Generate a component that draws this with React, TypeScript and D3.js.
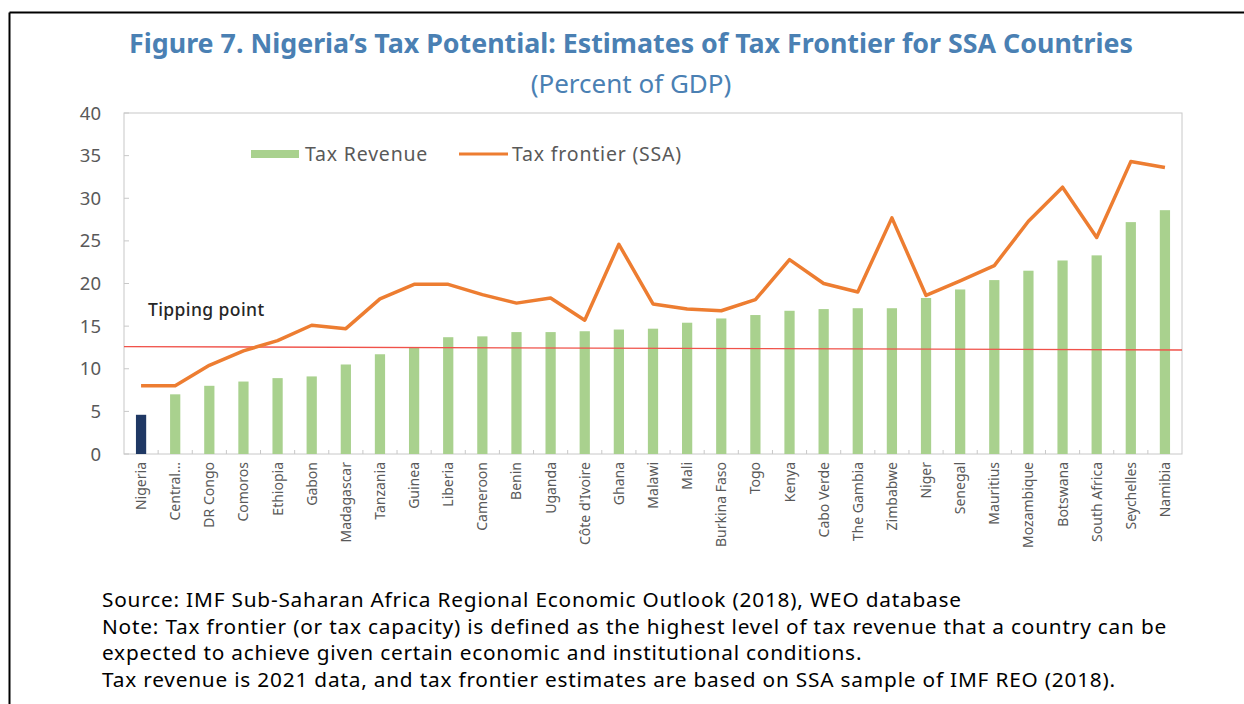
import * as d3 from "d3";

const countries = [
  "Nigeria", "Central…", "DR Congo", "Comoros", "Ethiopia", "Gabon", "Madagascar",
  "Tanzania", "Guinea", "Liberia", "Cameroon", "Benin", "Uganda", "Côte d'Ivoire",
  "Ghana", "Malawi", "Mali", "Burkina Faso", "Togo", "Kenya", "Cabo Verde",
  "The Gambia", "Zimbabwe", "Niger", "Senegal", "Mauritius", "Mozambique",
  "Botswana", "South Africa", "Seychelles", "Namibia",
];

const taxRevenue = [
  4.6, 7.0, 8.0, 8.5, 8.9, 9.1, 10.5, 11.7, 12.5, 13.7, 13.8, 14.3, 14.3, 14.4,
  14.6, 14.7, 15.4, 15.9, 16.3, 16.8, 17.0, 17.1, 17.1, 18.3, 19.3, 20.4, 21.5,
  22.7, 23.3, 27.2, 28.6,
];

const taxFrontier = [
  8.0, 8.0, 10.4, 12.1, 13.3, 15.1, 14.7, 18.2, 19.9, 19.9, 18.7, 17.7, 18.3,
  15.7, 24.6, 17.6, 17.0, 16.8, 18.1, 22.8, 20.0, 19.0, 27.7, 18.6, 20.3, 22.1,
  27.3, 31.3, 25.4, 34.3, 33.6,
];

// red "tipping point" line, start and end value
const tippingPoint = [12.6, 12.2];

const yTicks = [0, 5, 10, 15, 20, 25, 30, 35, 40];

const notes = [
  "Source: IMF Sub-Saharan Africa Regional Economic Outlook (2018), WEO database",
  "Note: Tax frontier (or tax capacity) is defined as the highest level of tax revenue that a country can be",
  "expected to achieve given certain economic and institutional conditions.",
  "Tax revenue is 2021 data, and tax frontier estimates are based on SSA sample of IMF REO (2018).",
];

const W = 1244;
const H = 704;
const PLOT = { left: 124, right: 1182, top: 113, bottom: 454 };
const FONT = "'Noto Sans', 'Open Sans', sans-serif";
const BLUE = "#4a80b3";
const GREEN = "#a9d18e";
const NAVY = "#1f3864";
const ORANGE = "#ed7d31";
const GREY = "#595959";

export default function App() {
  const x = d3
    .scaleBand()
    .domain(countries)
    .range([PLOT.left, PLOT.right])
    .paddingInner(0.7)
    .paddingOuter(0.35);
  const y = d3.scaleLinear().domain([0, 40]).range([PLOT.bottom, PLOT.top]);
  const bw = x.bandwidth();
  const step = x.step();

  const line = d3
    .line<number>()
    .x((_, i) => (x(countries[i]) as number) + bw / 2)
    .y((d) => y(d));

  const tipX = d3.scaleLinear().domain([0, 1]).range([PLOT.left, PLOT.right]);

  return (
    <svg
      width={W}
      height={H}
      style={{ position: "absolute", left: 0, top: 0, background: "#fff" }}
    >
      {/* frame */}
      <line x1={9.5} y1={12.5} x2={W} y2={12.5} stroke="#000" strokeWidth={2} />
      <line x1={9.5} y1={12.5} x2={9.5} y2={H} stroke="#000" strokeWidth={2} />

      <text x={631} y={53} textAnchor="middle" fontFamily={FONT} fontWeight="bold" fontSize={26.8} fill={BLUE}>
        Figure 7. Nigeria’s Tax Potential: Estimates of Tax Frontier for SSA Countries
      </text>
      <text x={631} y={93} textAnchor="middle" fontFamily={FONT} fontSize={26} fill={BLUE}>
        (Percent of GDP)
      </text>

      {/* plot area */}
      <rect
        x={PLOT.left}
        y={PLOT.top}
        width={PLOT.right - PLOT.left}
        height={PLOT.bottom - PLOT.top}
        fill="none"
        stroke="#c8c8c8"
        strokeWidth={1}
      />

      {yTicks.map((t) => (
        <g key={t}>
          <line x1={PLOT.left} x2={PLOT.left + 5} y1={y(t)} y2={y(t)} stroke="#c8c8c8" />
          <text x={101} y={y(t) + 6.5} textAnchor="end" fontFamily={FONT} fontSize={18.5} fill={GREY}>
            {t}
          </text>
        </g>
      ))}

      {countries.map((c, i) => (
        <line
          key={"t" + c}
          x1={(x(c) as number) - (step - bw) / 2}
          x2={(x(c) as number) - (step - bw) / 2}
          y1={PLOT.bottom}
          y2={PLOT.bottom - 4}
          stroke="#c8c8c8"
          opacity={i === 0 ? 0 : 1}
        />
      ))}

      {countries.map((c, i) => (
        <rect
          key={c}
          x={x(c)}
          y={y(taxRevenue[i])}
          width={bw}
          height={y(0) - y(taxRevenue[i])}
          fill={i === 0 ? NAVY : GREEN}
        />
      ))}

      <line
        x1={tipX(0)}
        x2={tipX(1)}
        y1={y(tippingPoint[0])}
        y2={y(tippingPoint[1])}
        stroke="#f0524a"
        strokeWidth={1.3}
      />

      <path d={line(taxFrontier) ?? ""} fill="none" stroke={ORANGE} strokeWidth={3.5} strokeLinejoin="round" />

      <text x={148} y={316} fontFamily={FONT} fontSize={17.5} fontWeight={500} letterSpacing={0.4} fill="#262626">
        Tipping point
      </text>

      {/* legend */}
      <rect x={251} y={150} width={48} height={8} fill={GREEN} />
      <text x={305} y={161} fontFamily={FONT} fontSize={19.5} letterSpacing={0.8} fill={GREY}>
        Tax Revenue
      </text>
      <line x1={459} x2={508} y1={154} y2={154} stroke={ORANGE} strokeWidth={3} />
      <text x={512} y={161} fontFamily={FONT} fontSize={19.5} letterSpacing={0.8} fill={GREY}>
        Tax frontier (SSA)
      </text>

      {countries.map((c) => {
        const cx = (x(c) as number) + bw / 2 + 5;
        return (
          <text
            key={"l" + c}
            transform={`translate(${cx},462) rotate(-90)`}
            textAnchor="end"
            fontFamily={FONT}
            fontSize={14}
            fill={GREY}
          >
            {c}
          </text>
        );
      })}

      {notes.map((n, i) => (
        <text key={i} x={102} y={607 + i * 26.5} fontFamily={FONT} fontSize={20.8} letterSpacing={0.8} fill="#000">
          {n}
        </text>
      ))}
    </svg>
  );
}
